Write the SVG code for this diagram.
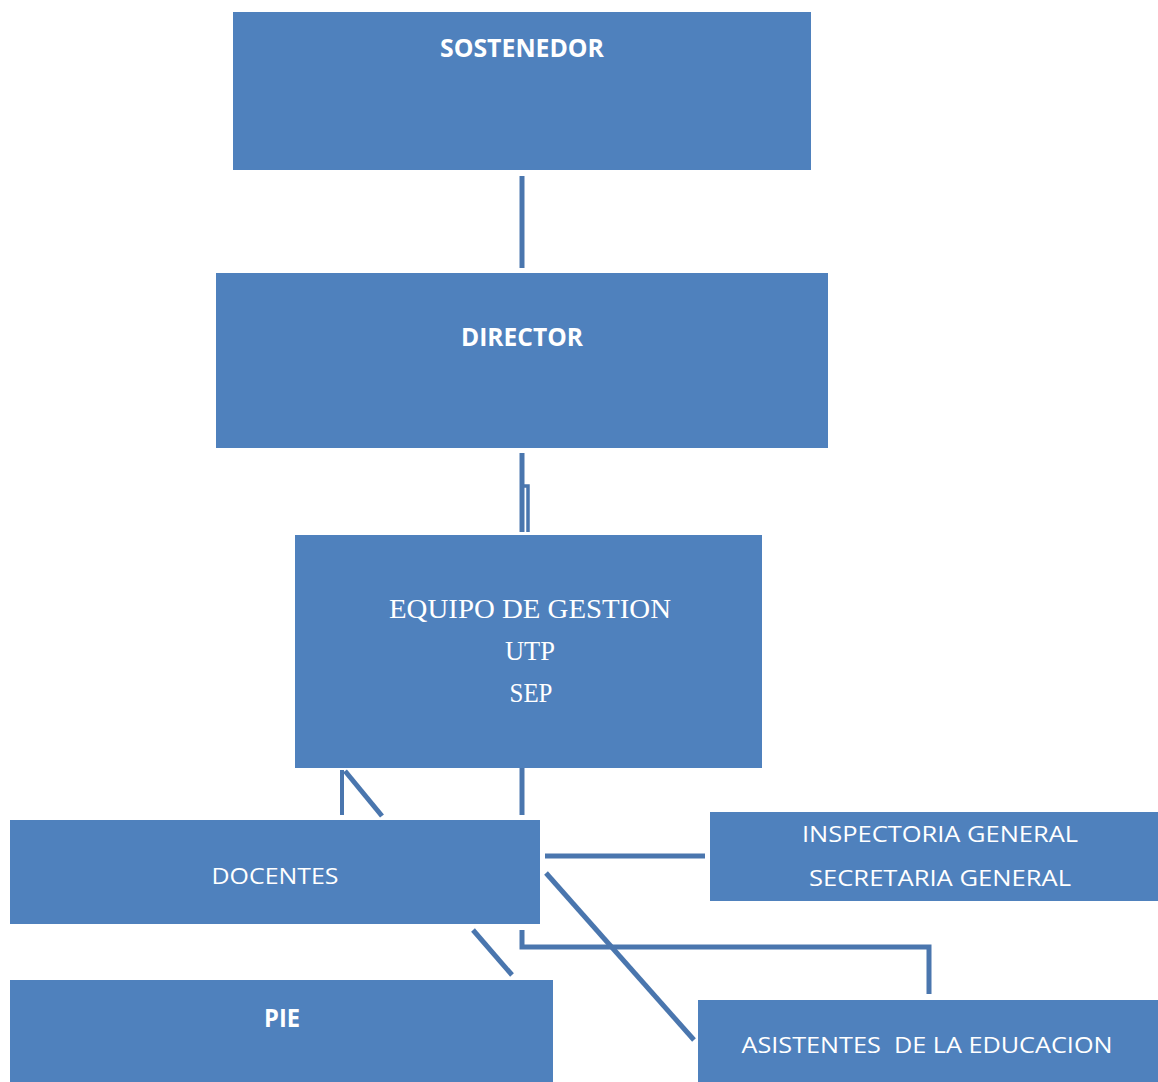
<svg xmlns="http://www.w3.org/2000/svg" width="1158" height="1082" viewBox="0 0 1158 1082">
<style>
.box{fill:#4f81bd;}
.c{stroke:#4a76ae;fill:none;stroke-width:5;}
.t{fill:#ffffff;font-family:"Open Sans","Liberation Sans",sans-serif;font-size:22.5px;text-anchor:middle;}
.b{font-weight:bold;font-size:24.5px;}
.s{fill:#ffffff;font-family:"Liberation Serif","Times New Roman",serif;font-size:27px;text-anchor:middle;}
</style>
<rect width="1158" height="1082" fill="#ffffff"/>
<g id="connectors">
<path class="c" d="M522,176 V268"/>
<path class="c" d="M522,453 V532"/>
<path class="c" style="stroke-width:3.5" d="M522,486 H528 V532"/>
<path class="c" style="stroke-width:4" d="M342,770 V815"/>
<path class="c" d="M345,771 L382,816"/>
<path class="c" d="M522,766 V815"/>
<path class="c" d="M545,856 H705"/>
<path class="c" d="M546,873 L694,1040"/>
<path class="c" d="M473,930 L512,975"/>
<path class="c" d="M522,930 V947 H929 V994"/>
</g>
<g id="sostenedor">
<rect class="box" x="233" y="12" width="578" height="158"/>
<text class="t b" x="522" y="57" textLength="164" lengthAdjust="spacingAndGlyphs">SOSTENEDOR</text>
</g>
<g id="director">
<rect class="box" x="216" y="273" width="612" height="175"/>
<text class="t b" x="522" y="346" textLength="122" lengthAdjust="spacingAndGlyphs">DIRECTOR</text>
</g>
<g id="equipo">
<rect class="box" x="295" y="535" width="467" height="233"/>
<text class="s" x="530" y="618" textLength="282" lengthAdjust="spacingAndGlyphs">EQUIPO DE GESTION</text>
<text class="s" x="530" y="660" textLength="50" lengthAdjust="spacingAndGlyphs">UTP</text>
<text class="s" x="531" y="702" textLength="43" lengthAdjust="spacingAndGlyphs">SEP</text>
</g>
<g id="docentes">
<rect class="box" x="10" y="820" width="530" height="104"/>
<text class="t" x="275" y="884" textLength="127" lengthAdjust="spacingAndGlyphs">DOCENTES</text>
</g>
<g id="inspectoria">
<rect class="box" x="710" y="812" width="448" height="89"/>
<text class="t" x="940" y="842" textLength="276" lengthAdjust="spacingAndGlyphs">INSPECTORIA GENERAL</text>
<text class="t" x="940" y="886" textLength="262" lengthAdjust="spacingAndGlyphs">SECRETARIA GENERAL</text>
</g>
<g id="pie">
<rect class="box" x="10" y="980" width="543" height="102"/>
<text class="t b" x="282" y="1027" textLength="36" lengthAdjust="spacingAndGlyphs">PIE</text>
</g>
<g id="asistentes">
<rect class="box" x="698" y="1000" width="460" height="82"/>
<text class="t" x="927" y="1053" textLength="371" lengthAdjust="spacingAndGlyphs" xml:space="preserve">ASISTENTES  DE LA EDUCACION</text>
</g>
</svg>
